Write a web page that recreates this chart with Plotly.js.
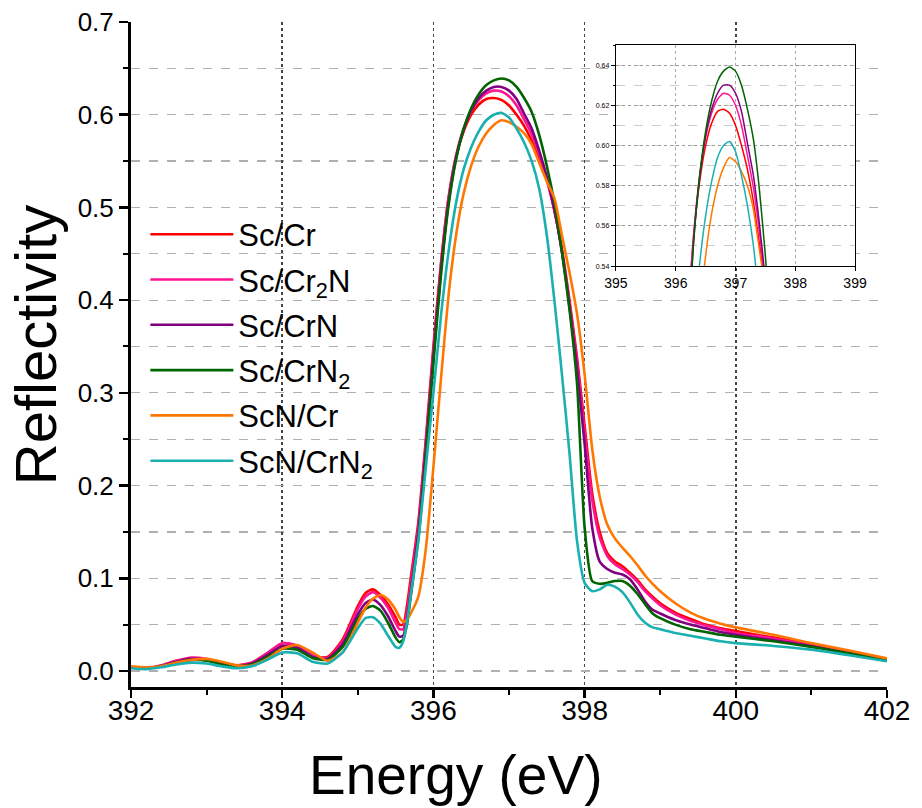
<!DOCTYPE html>
<html>
<head>
<meta charset="utf-8">
<script src="https://cdn.plot.ly/plotly-3.0.1.min.js"></script>
<style>html,body{margin:0;padding:0;background:#fff;}#chart{width:922px;height:808px;}</style>
</head>
<body>
<div id="chart"></div>
<script>
const energy = [392.0,392.2,392.4,392.6,392.8,393.0,393.2,393.4,393.6,393.8,394.0,394.2,394.4,394.6,394.8,
  395.0,395.1,395.2,395.3,395.4,395.5,395.55,395.6,395.65,395.7,
  395.8,395.9,396.0,396.1,396.2,396.3,396.4,396.5,396.6,396.7,396.8,396.9,397.0,397.1,397.2,397.3,397.4,397.5,
  397.6,397.7,397.8,397.9,398.0,398.1,398.2,398.3,398.4,398.5,398.6,398.7,398.8,398.9,399.0,
  399.2,399.4,399.6,399.8,400.0,400.5,401.0,401.5,402.0];

const scCr = [0.004,0.003,0.006,0.011,0.0135,0.012,0.008,0.006,0.009,0.019,0.030,0.027,0.016,0.015,0.034,
  0.070,0.084,0.088,0.082,0.072,0.058,0.050,0.050,0.070,0.100,
  0.160,0.250,0.350,0.440,0.510,0.555,0.582,0.600,0.611,0.617,0.618,0.616,0.610,0.600,0.588,0.572,0.551,0.530,
  0.497,0.455,0.400,0.338,0.265,0.192,0.150,0.127,0.118,0.113,0.106,0.098,0.088,0.080,0.073,
  0.063,0.056,0.050,0.046,0.043,0.036,0.029,0.021,0.012];

const scCr2N = [0.004,0.003,0.006,0.011,0.0145,0.013,0.009,0.006,0.009,0.019,0.030,0.027,0.017,0.014,0.032,
  0.067,0.080,0.085,0.079,0.068,0.052,0.045,0.045,0.063,0.093,
  0.155,0.245,0.345,0.437,0.510,0.556,0.585,0.604,0.616,0.623,0.626,0.625,0.620,0.610,0.595,0.579,0.557,0.530,
  0.497,0.453,0.397,0.333,0.258,0.185,0.144,0.124,0.115,0.110,0.104,0.096,0.086,0.078,0.071,
  0.061,0.054,0.049,0.045,0.041,0.035,0.028,0.020,0.012];

const scCrN = [0.004,0.003,0.005,0.010,0.013,0.012,0.008,0.005,0.008,0.017,0.027,0.025,0.015,0.013,0.029,
  0.061,0.073,0.077,0.071,0.059,0.043,0.037,0.038,0.055,0.085,
  0.148,0.238,0.338,0.432,0.505,0.553,0.584,0.605,0.618,0.626,0.630,0.630,0.626,0.617,0.601,0.585,0.561,0.533,
  0.498,0.452,0.393,0.325,0.245,0.155,0.118,0.110,0.106,0.104,0.099,0.088,0.075,0.066,0.062,
  0.055,0.050,0.046,0.042,0.039,0.033,0.027,0.019,0.011];

const scCrN2 = [0.004,0.003,0.005,0.009,0.012,0.011,0.007,0.005,0.007,0.015,0.024,0.023,0.014,0.012,0.026,
  0.056,0.067,0.070,0.065,0.052,0.036,0.031,0.034,0.050,0.080,
  0.142,0.232,0.332,0.427,0.502,0.552,0.585,0.607,0.622,0.632,0.637,0.639,0.637,0.630,0.618,0.603,0.578,0.545,
  0.505,0.452,0.390,0.310,0.155,0.097,0.094,0.095,0.097,0.097,0.092,0.083,0.072,0.062,0.057,
  0.050,0.045,0.042,0.039,0.037,0.032,0.026,0.019,0.011];

const scnCr = [0.005,0.004,0.005,0.009,0.012,0.013,0.010,0.006,0.006,0.013,0.024,0.028,0.020,0.011,0.020,
  0.052,0.068,0.078,0.082,0.077,0.066,0.058,0.053,0.055,0.062,
  0.080,0.132,0.220,0.315,0.405,0.470,0.515,0.545,0.566,0.580,0.589,0.594,0.592,0.587,0.580,0.568,0.548,0.528,
  0.510,0.470,0.430,0.385,0.320,0.240,0.188,0.158,0.143,0.133,0.124,0.114,0.103,0.094,0.086,
  0.073,0.063,0.056,0.051,0.047,0.039,0.030,0.022,0.0135];

const scnCrN2 = [0.003,0.002,0.004,0.007,0.009,0.008,0.005,0.003,0.005,0.012,0.020,0.019,0.010,0.008,0.020,
  0.046,0.057,0.058,0.051,0.038,0.026,0.025,0.032,0.052,0.082,
  0.140,0.220,0.300,0.383,0.452,0.505,0.541,0.565,0.582,0.594,0.600,0.602,0.597,0.585,0.570,0.550,0.520,0.470,
  0.400,0.320,0.235,0.140,0.095,0.086,0.088,0.093,0.091,0.085,0.074,0.061,0.052,0.047,0.045,
  0.041,0.038,0.035,0.032,0.030,0.027,0.023,0.017,0.0105];

const seriesNames = ['Sc/Cr','Sc/Cr<sub>2</sub>N','Sc/CrN','Sc/CrN<sub>2</sub>','ScN/Cr','ScN/CrN<sub>2</sub>'];
const seriesValues = [scCr, scCr2N, scCrN, scCrN2, scnCr, scnCrN2];
const seriesColors = ['#FF0000','#FF1493','#800080','#006400','#FF7700','#1AB0B0'];

const mainTickVals = [392,394,396,398,400,402];
const yTickVals = [0,0.1,0.2,0.3,0.4,0.5,0.6,0.7];
const insetTickVals = [395,396,397,398,399];
const insetYTicks = [0.54,0.56,0.58,0.60,0.62,0.64];

const FONT = 'Arial, "Liberation Sans", sans-serif';
const traces = [];
seriesValues.forEach((vals, i) => {
  traces.push({
    x: energy, y: vals, type: 'scatter', mode: 'lines', name: seriesNames[i],
    legendgroup: 'g' + i,
    line: {color: seriesColors[i], width: 2.6, shape: 'spline', smoothing: 0.6},
    xaxis: 'x', yaxis: 'y'
  });
});
seriesValues.forEach((vals, i) => {
  traces.push({
    x: energy, y: vals, type: 'scatter', mode: 'lines', showlegend: false,
    line: {color: seriesColors[i], width: 1.5, shape: 'spline', smoothing: 0.6},
    xaxis: 'x2', yaxis: 'y2'
  });
});

const layout = {
  width: 922, height: 808,
  margin: {l: 131, r: 35, t: 22, b: 121},
  paper_bgcolor: '#fff', plot_bgcolor: '#fff',
  font: {family: FONT, color: '#000'},
  showlegend: true,
  legend: {
    x: 0.019, y: 0.721, xanchor: 'left', yanchor: 'top',
    bgcolor: 'rgba(0,0,0,0)', font: {size: 31, family: FONT},
    itemwidth: 83, tracegroupgap: 2
  },
  annotations: [
    {text: 'Energy (eV)', xref: 'paper', yref: 'paper', x: 0.4286, y: -0.1323,
     xanchor: 'center', yanchor: 'middle', showarrow: false, font: {size: 55, family: FONT}},
    {text: 'Reflectivity', xref: 'paper', yref: 'paper', x: -0.127, y: 0.514, textangle: -90,
     xanchor: 'center', yanchor: 'middle', showarrow: false, font: {size: 58, family: FONT}}
  ],
  xaxis: {
    domain: [0, 1], range: [392, 402],
    tickvals: mainTickVals, ticktext: mainTickVals.map(String),
    ticks: 'outside', ticklen: 8, tickwidth: 2.5, tickcolor: '#000',
    minor: {dtick: 1, ticks: 'outside', ticklen: 5, tickwidth: 2, tickcolor: '#000'},
    showline: true, linecolor: '#000', linewidth: 3, mirror: false,
    showgrid: true, gridcolor: '#444', griddash: 'dot', gridwidth: 1.6,
    zeroline: false, ticklabelstandoff: -12,
    tickfont: {size: 28, family: FONT}
  },
  yaxis: {
    domain: [0, 1], range: [-0.0173, 0.7],
    tickvals: yTickVals, ticktext: yTickVals.map(v => v.toFixed(1)),
    ticks: 'outside', ticklen: 9, tickwidth: 2.5, tickcolor: '#000',
    minor: {dtick: 0.05, tick0: 0, ticks: 'outside', ticklen: 5, tickwidth: 2, tickcolor: '#000',
      showgrid: true, gridcolor: '#b0b0b0', griddash: 'dash', gridwidth: 1.2},
    showline: true, linecolor: '#000', linewidth: 3,
    showgrid: true, gridcolor: '#b0b0b0', griddash: 'dash', gridwidth: 1.2,
    zeroline: false,
    tickfont: {size: 26, family: FONT}
  },
  xaxis2: {
    domain: [0.6415, 0.9577], anchor: 'y2', range: [395, 399],
    tickvals: insetTickVals, ticks: 'outside', ticklen: 4, tickwidth: 1, tickcolor: '#000',
    showline: true, linecolor: '#000', linewidth: 1.2, mirror: true,
    showgrid: true, gridcolor: '#aaa', griddash: 'dot', gridwidth: 1,
    zeroline: false, tickfont: {size: 14, family: FONT}
  },
  yaxis2: {
    domain: [0.633, 0.9654], anchor: 'x2', range: [0.54, 0.65],
    tickvals: insetYTicks, ticktext: insetYTicks.map(v => v.toFixed(2)),
    ticks: 'outside', ticklen: 4, tickwidth: 1, tickcolor: '#000',
    minor: {dtick: 0.01, tick0: 0.54, ticks: 'outside', ticklen: 2, showgrid: true, gridcolor: '#ccc', griddash: 'dash', gridwidth: 1},
    showline: true, linecolor: '#000', linewidth: 1.2, mirror: true,
    showgrid: true, gridcolor: '#999', griddash: 'dot', gridwidth: 1,
    zeroline: false, tickfont: {size: 7, family: FONT}
  }
};

Plotly.newPlot('chart', traces, layout, {displayModeBar: false, staticPlot: true});
</script>
</body>
</html>
